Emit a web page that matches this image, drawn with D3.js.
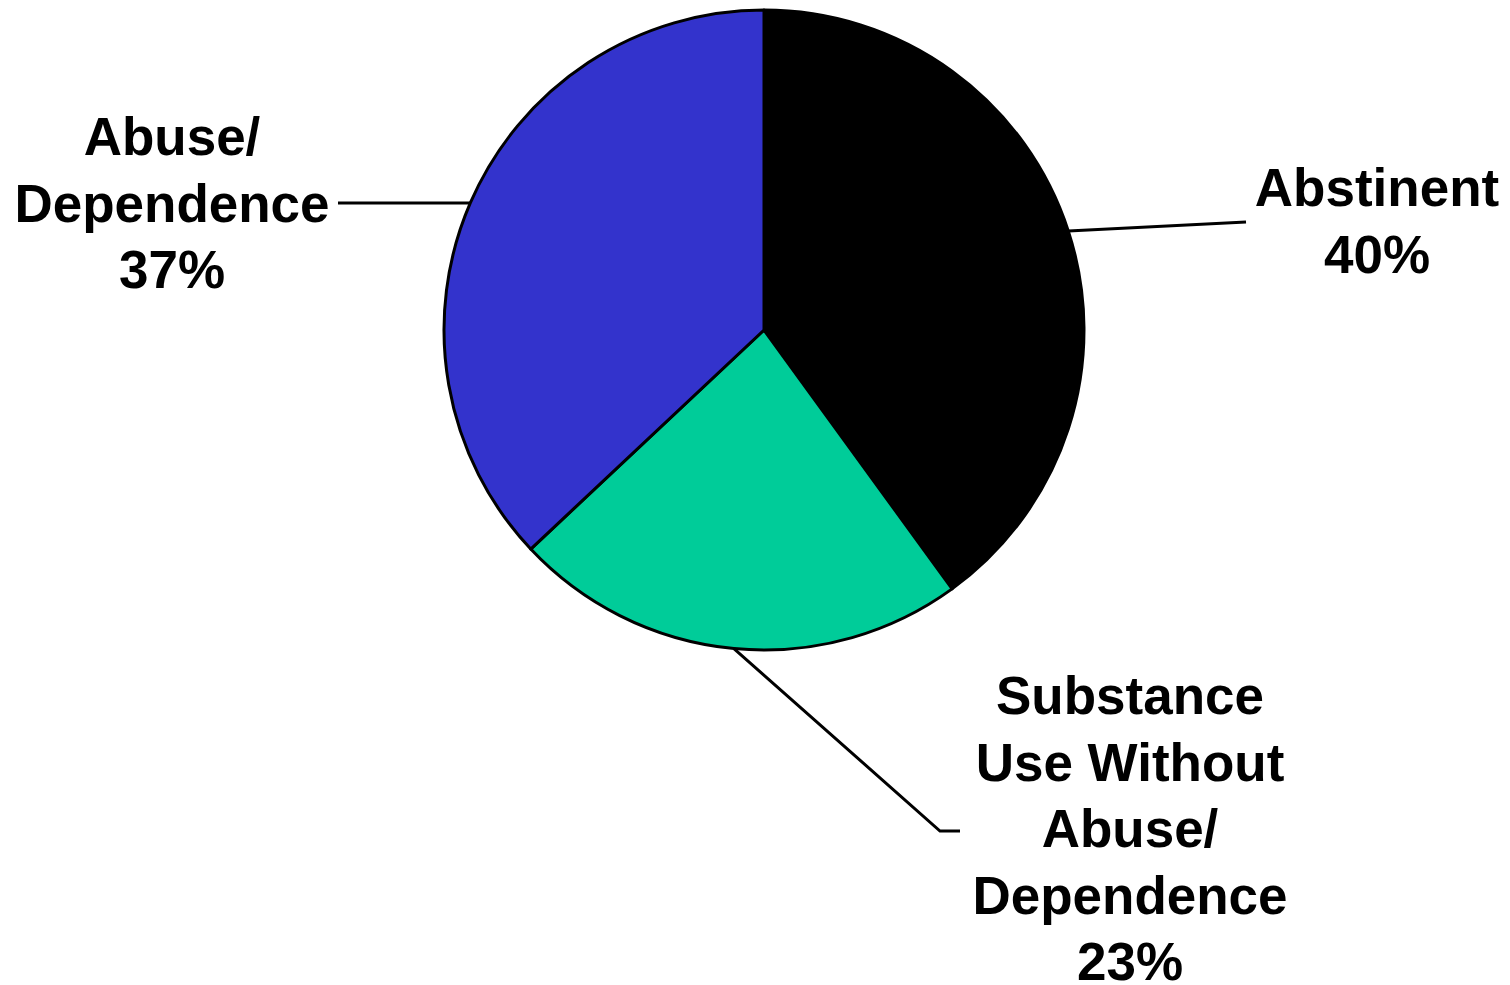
<!DOCTYPE html>
<html>
<head>
<meta charset="utf-8">
<script src="https://cdn.jsdelivr.net/npm/d3@7"></script>
<style>
    body { margin: 0; background: #fff; }
    text { font-family: "Liberation Sans", Arial, sans-serif; font-weight: bold; fill: #000; }
</style>
</head>
<body>
<svg width="1510" height="985"></svg>
<script>
// slices, clockwise from 12 o'clock
const categories = ["Abstinent", "Substance Use Without Abuse/Dependence", "Abuse/Dependence"];
const values = [40, 23, 37];
const colors = ["#000000", "#00CC99", "#3333CC"];
// how each label is broken into lines
const labelLines = [
    ["Abstinent", "40%"],
    ["Substance", "Use Without", "Abuse/", "Dependence", "23%"],
    ["Abuse/", "Dependence", "37%"]
];

const svg = d3.select("svg"),
    cx = 764, cy = 330, radius = 320,
    fontSize = 53, lineHeight = 66.5;

// where the leader line ends and where the text block sits
const layout = [
    {end: [1246, 222], elbow: null, tx: 1377, ty: 206},
    {end: [960, 831], elbow: [940, 831], tx: 1130, ty: 714},
    {end: [338, 203], elbow: null, tx: 172, ty: 155}
];

const pie = d3.pie().sort(null).value(d => d)(values);
const arc = d3.arc().innerRadius(0).outerRadius(radius);

const g = svg.append("g").attr("transform", `translate(${cx},${cy})`);

g.selectAll("path")
    .data(pie)
    .enter().append("path")
    .attr("d", arc)
    .attr("fill", (d, i) => colors[i])
    .attr("stroke", "#000")
    .attr("stroke-width", 3)
    .attr("stroke-linejoin", "round");

// leader lines start on the rim at each slice's mid angle
pie.forEach(function (d, i) {
    const a = (d.startAngle + d.endAngle) / 2;
    const p0 = [cx + radius * Math.sin(a), cy - radius * Math.cos(a)];
    const pts = [p0];
    if (layout[i].elbow) pts.push(layout[i].elbow);
    pts.push(layout[i].end);
    svg.append("path")
        .attr("d", d3.line()(pts))
        .attr("fill", "none")
        .attr("stroke", "#000")
        .attr("stroke-width", 3);

    const t = svg.append("text")
        .attr("text-anchor", "middle")
        .attr("font-size", fontSize);
    labelLines[i].forEach(function (line, j) {
        t.append("tspan")
            .attr("x", layout[i].tx)
            .attr("y", layout[i].ty + j * lineHeight)
            .text(line);
    });
});
</script>
</body>
</html>
